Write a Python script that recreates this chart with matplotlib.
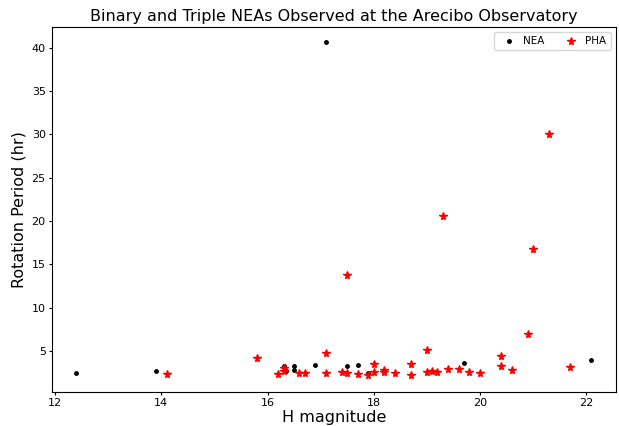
import matplotlib.pyplot as plt

# NEA (black dots)
nea_h = [12.4, 13.9, 16.3, 16.35, 16.5, 16.5, 16.9, 17.1, 17.5, 17.7, 17.9, 19.7, 22.1]
nea_p = [2.4, 2.7, 3.3, 2.7, 3.25, 2.8, 3.35, 40.6, 3.27, 3.4, 2.5, 3.57, 3.92]

# PHA (red stars)
pha_h = [14.1, 15.8, 16.2, 16.3, 16.3, 16.6, 16.7, 17.1, 17.1, 17.4, 17.5, 17.5,
         17.7, 17.9, 18.0, 18.0, 18.2, 18.2, 18.4, 18.7, 18.7, 19.0, 19.0, 19.1,
         19.2, 19.3, 19.4, 19.6, 19.8, 20.0, 20.4, 20.4, 20.6, 20.9, 21.0, 21.3, 21.7]
pha_p = [2.3, 4.15, 2.3, 3.0, 2.7, 2.4, 2.5, 4.75, 2.4, 2.6, 2.5, 13.8,
         2.3, 2.25, 3.5, 2.55, 2.8, 2.55, 2.5, 3.45, 2.25, 5.05, 2.55, 2.65,
         2.55, 20.55, 2.95, 2.9, 2.6, 2.45, 4.4, 3.3, 2.75, 7.0, 16.8, 30.05, 3.1]

fig = plt.figure(figsize=(6.19, 4.26), dpi=100)
ax = fig.add_axes([0.084, 0.080, 0.911, 0.857])

ax.plot(nea_h, nea_p, "k.", markersize=5, label="NEA")
ax.plot(pha_h, pha_p, "r*", markersize=5.8, label="PHA")

ax.set_xlim(11.94, 22.56)
ax.set_ylim(0.27, 42.4)
ax.set_xticks([12, 14, 16, 18, 20, 22])
ax.set_yticks([5, 10, 15, 20, 25, 30, 35, 40])
ax.tick_params(labelsize=8, length=2.5, pad=2)

ax.set_title("Binary and Triple NEAs Observed at the Arecibo Observatory", fontsize=11.5, pad=4)
ax.set_xlabel("H magnitude", fontsize=11.5, labelpad=1)
ax.set_ylabel("Rotation Period (hr)", fontsize=11.5, labelpad=4)
ax.legend(loc="upper right", ncol=2, fontsize=7.5, handletextpad=0.4, columnspacing=1.5)

fig.savefig("out.png")
